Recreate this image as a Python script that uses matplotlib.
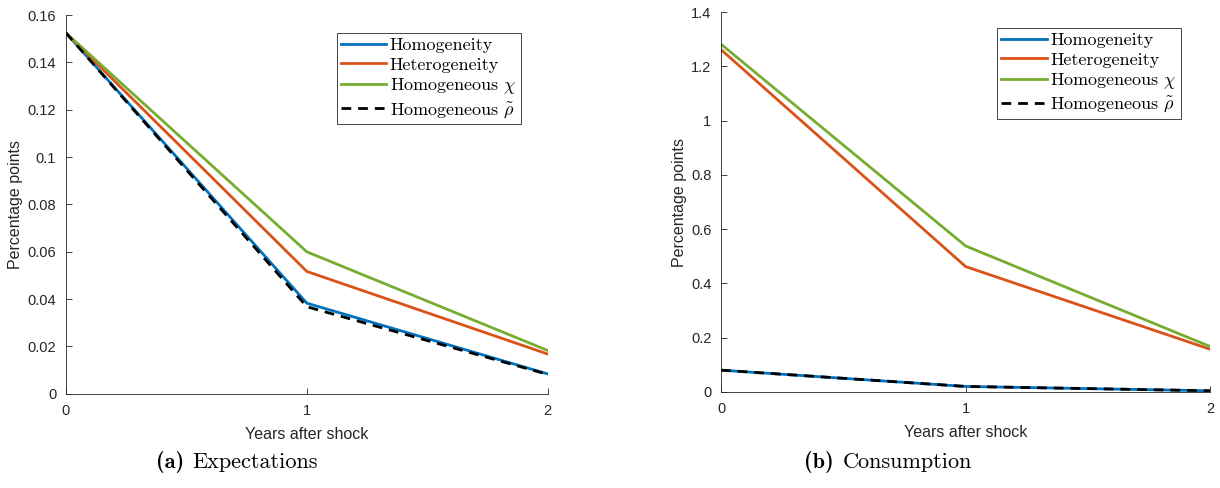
import matplotlib
matplotlib.use("Agg")
import matplotlib.pyplot as plt

# Horizonte del choque (años)
years = [0, 1, 2]

# Respuesta de las expectativas (puntos porcentuales)
exp_homogeneity = [0.1525, 0.0383, 0.0084]
exp_heterogeneity = [0.1525, 0.0517, 0.0168]
exp_homog_chi = [0.1525, 0.0600, 0.0183]
exp_homog_rho = [0.1525, 0.0368, 0.0082]

# Respuesta del consumo (puntos porcentuales)
cons_homogeneity = [0.080, 0.020, 0.004]
cons_heterogeneity = [1.262, 0.462, 0.157]
cons_homog_chi = [1.282, 0.538, 0.167]
cons_homog_rho = [0.080, 0.020, 0.004]

labels = ["Homogeneity", "Heterogeneity", r"Homogeneous $\chi$", r"Homogeneous $\tilde{\rho}$"]
exp_ticks = [0, 0.02, 0.04, 0.06, 0.08, 0.1, 0.12, 0.14, 0.16]
cons_ticks = [0, 0.2, 0.4, 0.6, 0.8, 1, 1.2, 1.4]

plt.rcParams["font.family"] = ["Liberation Sans", "DejaVu Sans"]
plt.rcParams["mathtext.fontset"] = "cm"

axis_gray = "#262626"
colors = ["#0072BD", "#D95319", "#77AC30"]


def panel(ax, series, yticks, ylim, legend_anchor):
    for vals, col, lab in zip(series[:3], colors, labels[:3]):
        ax.plot(years, vals, color=col, lw=2, label=lab)
    ax.plot(years, series[3], color="black", lw=2, dashes=(3.5, 2.5), label=labels[3])

    ax.set_xlim(0, 2)
    ax.set_ylim(*ylim)
    ax.set_xticks(years)
    ax.set_xticklabels([str(y) for y in years])
    ax.set_yticks(yticks)
    ax.set_yticklabels(["%g" % t for t in yticks])

    for side in ("top", "right"):
        ax.spines[side].set_visible(False)
    for side in ("left", "bottom"):
        ax.spines[side].set_color(axis_gray)
        ax.spines[side].set_linewidth(0.6)
    ax.tick_params(direction="in", length=4, width=0.6, colors=axis_gray,
                   labelsize=10.5, pad=7)

    ax.set_xlabel("Years after shock", fontsize=11.5, color=axis_gray, labelpad=7)
    ax.set_ylabel("Percentage points", fontsize=11.5, color=axis_gray, labelpad=3)

    leg = ax.legend(loc="upper left", bbox_to_anchor=legend_anchor, borderaxespad=0,
                    prop={"family": "cmr10", "size": 13}, fancybox=False,
                    handlelength=2.5, handletextpad=0.2, labelspacing=0.2,
                    borderpad=0.25, framealpha=1)
    leg.get_frame().set_edgecolor(axis_gray)
    leg.get_frame().set_linewidth(0.6)


fig = plt.figure(figsize=(12.2, 4.88), dpi=100)
ax1 = fig.add_axes([0.054, 0.193, 0.395, 0.776])
ax2 = fig.add_axes([0.591, 0.197, 0.401, 0.778])

panel(ax1, [exp_homogeneity, exp_heterogeneity, exp_homog_chi, exp_homog_rho],
      exp_ticks, (0, 0.16), (0.562, 0.952))
panel(ax2, [cons_homogeneity, cons_heterogeneity, cons_homog_chi, cons_homog_rho],
      cons_ticks, (0, 1.4), (0.564, 0.958))

# Subtítulos: letra en negrita + nombre del panel
cap_y = 1 - 462 / 488
fig.text(184 / 1220, cap_y, "(a)", family="cmb10", fontsize=16, ha="right", va="center")
fig.text(192 / 1220, cap_y, "Expectations", family="cmr10", fontsize=16, ha="left", va="center")
fig.text(834 / 1220, cap_y, "(b)", family="cmb10", fontsize=16, ha="right", va="center")
fig.text(843 / 1220, cap_y, "Consumption", family="cmr10", fontsize=16, ha="left", va="center")

fig.savefig("out.png", dpi=100)
